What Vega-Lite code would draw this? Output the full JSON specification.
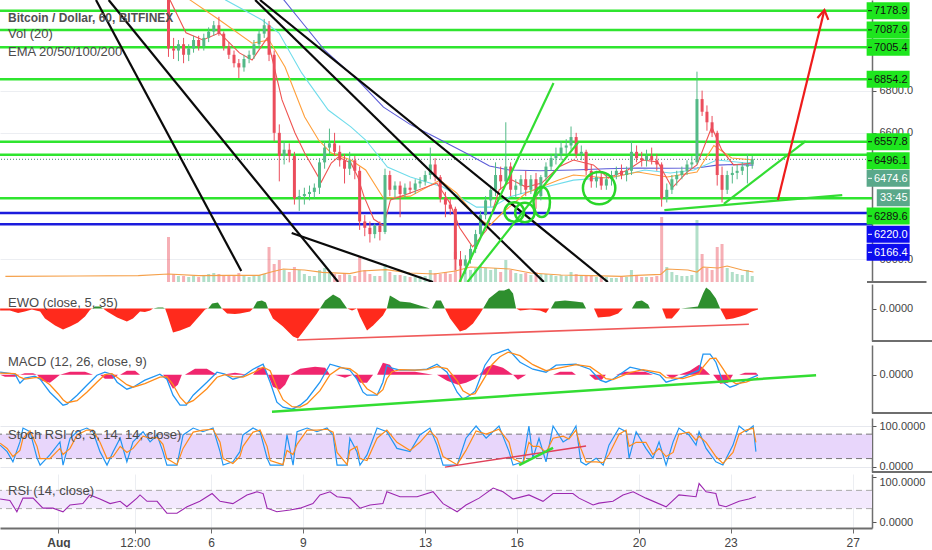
{
"$schema":"https://vega.github.io/schema/vega-lite/v6.json",
"padding":{"left":-2,"top":0,"right":0,"bottom":0},
"background":"#ffffff",
"spacing":1,
"config":{"view":{"stroke":null},"font":"Liberation Sans","title":{"anchor":"start","frame":"group","fontSize":13,"fontWeight":"normal","color":"#4a4a4a","font":"Liberation Sans"},"axis":{"labelFont":"Liberation Sans"},"tick":{"opacity":1},"point":{"opacity":1}},
"datasets":{
"candles":[
{"d":4.5,"o":7240,"h":7260,"l":6960,"c":7000,"vol":2250},
{"d":4.67,"o":7000,"h":7050,"l":6950,"c":6990,"vol":400},
{"d":4.83,"o":6990,"h":7040,"l":6940,"c":7020,"vol":300},
{"d":5.0,"o":7020,"h":7050,"l":6930,"c":6970,"vol":300},
{"d":5.17,"o":6970,"h":7020,"l":6940,"c":7000,"vol":250},
{"d":5.33,"o":7000,"h":7060,"l":6980,"c":7040,"vol":300},
{"d":5.5,"o":7040,"h":7060,"l":6990,"c":7010,"vol":250},
{"d":5.67,"o":7010,"h":7070,"l":6990,"c":7050,"vol":350},
{"d":5.83,"o":7050,"h":7100,"l":7030,"c":7080,"vol":400},
{"d":6.0,"o":7080,"h":7130,"l":7060,"c":7110,"vol":450},
{"d":6.17,"o":7110,"h":7150,"l":7060,"c":7070,"vol":400},
{"d":6.33,"o":7070,"h":7080,"l":6990,"c":7010,"vol":350},
{"d":6.5,"o":7010,"h":7030,"l":6950,"c":6970,"vol":300},
{"d":6.67,"o":6970,"h":6990,"l":6910,"c":6930,"vol":300},
{"d":6.83,"o":6930,"h":6950,"l":6860,"c":6910,"vol":450},
{"d":7.0,"o":6910,"h":6970,"l":6890,"c":6950,"vol":300},
{"d":7.17,"o":6950,"h":6990,"l":6930,"c":6970,"vol":250},
{"d":7.33,"o":6970,"h":7040,"l":6950,"c":7020,"vol":300},
{"d":7.5,"o":7020,"h":7090,"l":7000,"c":7070,"vol":350},
{"d":7.67,"o":7070,"h":7140,"l":7050,"c":7110,"vol":400},
{"d":7.83,"o":7110,"h":7130,"l":6940,"c":6970,"vol":1750},
{"d":8.0,"o":6970,"h":6990,"l":6560,"c":6600,"vol":900},
{"d":8.17,"o":6600,"h":6640,"l":6370,"c":6490,"vol":1100},
{"d":8.33,"o":6490,"h":6560,"l":6450,"c":6520,"vol":600},
{"d":8.5,"o":6520,"h":6550,"l":6460,"c":6490,"vol":500},
{"d":8.67,"o":6490,"h":6510,"l":6260,"c":6290,"vol":750},
{"d":8.83,"o":6290,"h":6330,"l":6230,"c":6300,"vol":600},
{"d":9.0,"o":6300,"h":6340,"l":6260,"c":6310,"vol":400},
{"d":9.17,"o":6310,"h":6350,"l":6280,"c":6320,"vol":300},
{"d":9.33,"o":6320,"h":6360,"l":6290,"c":6340,"vol":300},
{"d":9.5,"o":6340,"h":6480,"l":6310,"c":6460,"vol":600},
{"d":9.67,"o":6460,"h":6560,"l":6430,"c":6530,"vol":700},
{"d":9.83,"o":6530,"h":6620,"l":6500,"c":6550,"vol":500},
{"d":10.0,"o":6550,"h":6600,"l":6490,"c":6510,"vol":400},
{"d":10.17,"o":6510,"h":6540,"l":6440,"c":6470,"vol":350},
{"d":10.33,"o":6470,"h":6500,"l":6360,"c":6430,"vol":400},
{"d":10.5,"o":6430,"h":6510,"l":6400,"c":6470,"vol":350},
{"d":10.67,"o":6470,"h":6490,"l":6380,"c":6420,"vol":300},
{"d":10.83,"o":6420,"h":6440,"l":6140,"c":6180,"vol":1250},
{"d":11.0,"o":6180,"h":6210,"l":6110,"c":6150,"vol":600},
{"d":11.17,"o":6150,"h":6180,"l":6080,"c":6120,"vol":400},
{"d":11.33,"o":6120,"h":6170,"l":6100,"c":6160,"vol":300},
{"d":11.5,"o":6160,"h":6180,"l":6090,"c":6130,"vol":300},
{"d":11.67,"o":6130,"h":6430,"l":6120,"c":6400,"vol":900},
{"d":11.83,"o":6400,"h":6420,"l":6300,"c":6330,"vol":500},
{"d":12.0,"o":6330,"h":6370,"l":6290,"c":6350,"vol":350},
{"d":12.17,"o":6350,"h":6370,"l":6200,"c":6310,"vol":350},
{"d":12.33,"o":6310,"h":6360,"l":6290,"c":6340,"vol":300},
{"d":12.5,"o":6340,"h":6370,"l":6310,"c":6330,"vol":250},
{"d":12.67,"o":6330,"h":6380,"l":6310,"c":6360,"vol":250},
{"d":12.83,"o":6360,"h":6390,"l":6340,"c":6370,"vol":300},
{"d":13.0,"o":6370,"h":6420,"l":6350,"c":6400,"vol":300},
{"d":13.17,"o":6400,"h":6530,"l":6380,"c":6450,"vol":600},
{"d":13.33,"o":6450,"h":6480,"l":6370,"c":6390,"vol":450},
{"d":13.5,"o":6390,"h":6400,"l":6270,"c":6290,"vol":400},
{"d":13.67,"o":6290,"h":6320,"l":6200,"c":6260,"vol":500},
{"d":13.83,"o":6260,"h":6290,"l":6210,"c":6240,"vol":400},
{"d":14.0,"o":6240,"h":6250,"l":5950,"c":6000,"vol":1500},
{"d":14.17,"o":6000,"h":6040,"l":5905,"c":5970,"vol":1100},
{"d":14.33,"o":5970,"h":6020,"l":5930,"c":6000,"vol":700},
{"d":14.5,"o":6000,"h":6070,"l":5980,"c":6050,"vol":600},
{"d":14.67,"o":6050,"h":6140,"l":6030,"c":6120,"vol":700},
{"d":14.83,"o":6120,"h":6230,"l":6100,"c":6210,"vol":800},
{"d":15.0,"o":6210,"h":6300,"l":6190,"c":6280,"vol":700},
{"d":15.17,"o":6280,"h":6350,"l":6250,"c":6330,"vol":600},
{"d":15.33,"o":6330,"h":6460,"l":6300,"c":6400,"vol":700},
{"d":15.5,"o":6400,"h":6440,"l":6330,"c":6370,"vol":500},
{"d":15.67,"o":6370,"h":6650,"l":6360,"c":6440,"vol":1100},
{"d":15.83,"o":6440,"h":6460,"l":6300,"c":6330,"vol":600},
{"d":16.0,"o":6330,"h":6380,"l":6290,"c":6350,"vol":450},
{"d":16.17,"o":6350,"h":6400,"l":6310,"c":6380,"vol":400},
{"d":16.33,"o":6380,"h":6420,"l":6300,"c":6330,"vol":450},
{"d":16.5,"o":6330,"h":6400,"l":6310,"c":6380,"vol":350},
{"d":16.67,"o":6380,"h":6410,"l":6240,"c":6300,"vol":500},
{"d":16.83,"o":6300,"h":6400,"l":6280,"c":6390,"vol":400},
{"d":17.0,"o":6390,"h":6460,"l":6370,"c":6440,"vol":400},
{"d":17.17,"o":6440,"h":6500,"l":6420,"c":6480,"vol":350},
{"d":17.33,"o":6480,"h":6530,"l":6450,"c":6500,"vol":300},
{"d":17.5,"o":6500,"h":6560,"l":6470,"c":6530,"vol":350},
{"d":17.67,"o":6530,"h":6570,"l":6500,"c":6540,"vol":300},
{"d":17.83,"o":6540,"h":6630,"l":6520,"c":6580,"vol":500},
{"d":18.0,"o":6580,"h":6600,"l":6480,"c":6500,"vol":400},
{"d":18.17,"o":6500,"h":6540,"l":6470,"c":6510,"vol":300},
{"d":18.33,"o":6510,"h":6520,"l":6400,"c":6420,"vol":350},
{"d":18.5,"o":6420,"h":6450,"l":6340,"c":6370,"vol":350},
{"d":18.67,"o":6370,"h":6420,"l":6340,"c":6390,"vol":250},
{"d":18.83,"o":6390,"h":6410,"l":6330,"c":6350,"vol":250},
{"d":19.0,"o":6350,"h":6400,"l":6330,"c":6380,"vol":250},
{"d":19.17,"o":6380,"h":6420,"l":6350,"c":6400,"vol":200},
{"d":19.33,"o":6400,"h":6440,"l":6380,"c":6420,"vol":200},
{"d":19.5,"o":6420,"h":6450,"l":6380,"c":6400,"vol":250},
{"d":19.67,"o":6400,"h":6440,"l":6370,"c":6420,"vol":250},
{"d":19.83,"o":6420,"h":6560,"l":6400,"c":6510,"vol":600},
{"d":20.0,"o":6510,"h":6540,"l":6460,"c":6480,"vol":350},
{"d":20.17,"o":6480,"h":6510,"l":6440,"c":6470,"vol":250},
{"d":20.33,"o":6470,"h":6520,"l":6440,"c":6490,"vol":250},
{"d":20.5,"o":6490,"h":6530,"l":6450,"c":6470,"vol":250},
{"d":20.67,"o":6470,"h":6500,"l":6420,"c":6450,"vol":300},
{"d":20.83,"o":6450,"h":6460,"l":6250,"c":6290,"vol":3250},
{"d":21.0,"o":6290,"h":6360,"l":6270,"c":6330,"vol":750},
{"d":21.17,"o":6330,"h":6400,"l":6310,"c":6380,"vol":500},
{"d":21.33,"o":6380,"h":6420,"l":6350,"c":6400,"vol":350},
{"d":21.5,"o":6400,"h":6440,"l":6380,"c":6420,"vol":300},
{"d":21.67,"o":6420,"h":6470,"l":6400,"c":6450,"vol":300},
{"d":21.83,"o":6450,"h":6490,"l":6430,"c":6460,"vol":350},
{"d":22.0,"o":6460,"h":6890,"l":6450,"c":6760,"vol":3100},
{"d":22.17,"o":6760,"h":6800,"l":6680,"c":6700,"vol":1400},
{"d":22.33,"o":6700,"h":6730,"l":6610,"c":6650,"vol":700},
{"d":22.5,"o":6650,"h":6680,"l":6580,"c":6600,"vol":600},
{"d":22.67,"o":6600,"h":6610,"l":6350,"c":6400,"vol":1750},
{"d":22.83,"o":6400,"h":6440,"l":6270,"c":6330,"vol":1900},
{"d":23.0,"o":6330,"h":6420,"l":6310,"c":6400,"vol":700},
{"d":23.17,"o":6400,"h":6440,"l":6360,"c":6410,"vol":500},
{"d":23.33,"o":6410,"h":6450,"l":6380,"c":6420,"vol":400},
{"d":23.5,"o":6420,"h":6460,"l":6400,"c":6440,"vol":350},
{"d":23.67,"o":6440,"h":6500,"l":6360,"c":6450,"vol":600},
{"d":23.83,"o":6450,"h":6490,"l":6430,"c":6474.6,"vol":300}
],
"volma":[
{"d":-0.9,"v":280},{"d":1.5,"v":300},{"d":3.5,"v":320},{"d":4.5,"v":400},{"d":5.5,"v":320},{"d":6.5,"v":330},{"d":7.5,"v":330},{"d":7.9,"v":500},{"d":8.3,"v":650},{"d":9.0,"v":600},{"d":9.6,"v":480},{"d":10.5,"v":420},{"d":10.9,"v":550},{"d":11.7,"v":620},{"d":12.5,"v":450},{"d":13.3,"v":400},{"d":14.0,"v":550},{"d":14.5,"v":750},{"d":15.2,"v":700},{"d":15.8,"v":650},{"d":16.5,"v":450},{"d":17.5,"v":350},{"d":18.5,"v":320},{"d":19.5,"v":280},{"d":20.0,"v":330},{"d":20.8,"v":380},{"d":21.0,"v":650},{"d":21.7,"v":600},{"d":22.0,"v":500},{"d":22.2,"v":750},{"d":22.7,"v":700},{"d":23.0,"v":800},{"d":23.5,"v":600},{"d":23.87,"v":500}
],
"ema":[
{"n":"EMA 200","d":4.5,"p":7700},{"n":"EMA 200","d":6.0,"p":7540},{"n":"EMA 200","d":7.5,"p":7360},{"n":"EMA 200","d":8.32,"p":7230},{"n":"EMA 200","d":9.0,"p":7110},{"n":"EMA 200","d":9.66,"p":6993},{"n":"EMA 200","d":10.77,"p":6850},{"n":"EMA 200","d":11.62,"p":6722},{"n":"EMA 200","d":12.5,"p":6640},{"n":"EMA 200","d":13.26,"p":6585},{"n":"EMA 200","d":14.47,"p":6495},{"n":"EMA 200","d":15.13,"p":6443},{"n":"EMA 200","d":15.78,"p":6424},{"n":"EMA 200","d":16.8,"p":6420},{"n":"EMA 200","d":17.91,"p":6424},{"n":"EMA 200","d":19.0,"p":6430},{"n":"EMA 200","d":20.04,"p":6433},{"n":"EMA 200","d":21.0,"p":6432},{"n":"EMA 200","d":22.0,"p":6433},{"n":"EMA 200","d":22.66,"p":6447},{"n":"EMA 200","d":23.2,"p":6450},{"n":"EMA 200","d":23.87,"p":6447},
{"n":"EMA 100","d":4.5,"p":7450},{"n":"EMA 100","d":5.5,"p":7320},{"n":"EMA 100","d":6.39,"p":7230},{"n":"EMA 100","d":7.6,"p":7135},{"n":"EMA 100","d":8.16,"p":7073},{"n":"EMA 100","d":8.91,"p":6884},{"n":"EMA 100","d":9.79,"p":6708},{"n":"EMA 100","d":10.54,"p":6628},{"n":"EMA 100","d":11.03,"p":6566},{"n":"EMA 100","d":11.75,"p":6438},{"n":"EMA 100","d":12.51,"p":6391},{"n":"EMA 100","d":13.59,"p":6343},{"n":"EMA 100","d":14.14,"p":6296},{"n":"EMA 100","d":14.7,"p":6248},{"n":"EMA 100","d":15.22,"p":6248},{"n":"EMA 100","d":15.78,"p":6296},{"n":"EMA 100","d":16.99,"p":6343},{"n":"EMA 100","d":17.91,"p":6376},{"n":"EMA 100","d":19.28,"p":6391},{"n":"EMA 100","d":20.27,"p":6424},{"n":"EMA 100","d":21.12,"p":6410},{"n":"EMA 100","d":21.9,"p":6424},{"n":"EMA 100","d":22.66,"p":6471},{"n":"EMA 100","d":23.64,"p":6457},{"n":"EMA 100","d":23.87,"p":6462},
{"n":"EMA 50","d":4.5,"p":7300},{"n":"EMA 50","d":5.21,"p":7230},{"n":"EMA 50","d":6.19,"p":7135},{"n":"EMA 50","d":7.27,"p":7025},{"n":"EMA 50","d":7.83,"p":7040},{"n":"EMA 50","d":8.36,"p":6912},{"n":"EMA 50","d":9.01,"p":6675},{"n":"EMA 50","d":9.47,"p":6566},{"n":"EMA 50","d":9.89,"p":6504},{"n":"EMA 50","d":10.54,"p":6471},{"n":"EMA 50","d":11.03,"p":6424},{"n":"EMA 50","d":11.62,"p":6290},{"n":"EMA 50","d":12.51,"p":6300},{"n":"EMA 50","d":13.49,"p":6376},{"n":"EMA 50","d":14.04,"p":6315},{"n":"EMA 50","d":14.7,"p":6201},{"n":"EMA 50","d":15.13,"p":6160},{"n":"EMA 50","d":15.55,"p":6220},{"n":"EMA 50","d":16.34,"p":6315},{"n":"EMA 50","d":17.42,"p":6376},{"n":"EMA 50","d":17.91,"p":6400},{"n":"EMA 50","d":19.06,"p":6386},{"n":"EMA 50","d":20.04,"p":6414},{"n":"EMA 50","d":21.02,"p":6391},{"n":"EMA 50","d":22.0,"p":6414},{"n":"EMA 50","d":22.56,"p":6540},{"n":"EMA 50","d":23.15,"p":6481},{"n":"EMA 50","d":23.87,"p":6471},
{"n":"EMA 20","d":4.3,"p":7320},{"n":"EMA 20","d":4.55,"p":7230},{"n":"EMA 20","d":5.08,"p":7074},{"n":"EMA 20","d":5.64,"p":7040},{"n":"EMA 20","d":6.19,"p":7074},{"n":"EMA 20","d":6.85,"p":6979},{"n":"EMA 20","d":7.27,"p":6945},{"n":"EMA 20","d":7.77,"p":7050},{"n":"EMA 20","d":8.26,"p":6756},{"n":"EMA 20","d":8.69,"p":6599},{"n":"EMA 20","d":9.01,"p":6504},{"n":"EMA 20","d":9.56,"p":6367},{"n":"EMA 20","d":9.89,"p":6457},{"n":"EMA 20","d":10.12,"p":6485},{"n":"EMA 20","d":10.54,"p":6457},{"n":"EMA 20","d":10.77,"p":6391},{"n":"EMA 20","d":10.97,"p":6300},{"n":"EMA 20","d":11.3,"p":6190},{"n":"EMA 20","d":11.63,"p":6160},{"n":"EMA 20","d":11.85,"p":6282},{"n":"EMA 20","d":12.51,"p":6315},{"n":"EMA 20","d":13.39,"p":6362},{"n":"EMA 20","d":13.82,"p":6267},{"n":"EMA 20","d":14.14,"p":6150},{"n":"EMA 20","d":14.57,"p":6060},{"n":"EMA 20","d":15.03,"p":6139},{"n":"EMA 20","d":15.45,"p":6330},{"n":"EMA 20","d":15.88,"p":6376},{"n":"EMA 20","d":16.34,"p":6343},{"n":"EMA 20","d":16.86,"p":6362},{"n":"EMA 20","d":17.42,"p":6438},{"n":"EMA 20","d":17.91,"p":6471},{"n":"EMA 20","d":18.57,"p":6448},{"n":"EMA 20","d":19.06,"p":6386},{"n":"EMA 20","d":19.71,"p":6424},{"n":"EMA 20","d":20.2,"p":6471},{"n":"EMA 20","d":20.7,"p":6462},{"n":"EMA 20","d":21.18,"p":6339},{"n":"EMA 20","d":21.67,"p":6414},{"n":"EMA 20","d":22.0,"p":6448},{"n":"EMA 20","d":22.49,"p":6628},{"n":"EMA 20","d":22.82,"p":6519},{"n":"EMA 20","d":23.21,"p":6448},{"n":"EMA 20","d":23.87,"p":6457}
],
"levels":[
{"p":7178.9,"k":"level"},{"p":7087.9,"k":"level"},{"p":7005.4,"k":"level"},{"p":6854.2,"k":"level"},{"p":6557.8,"k":"level"},{"p":6496.1,"k":"level"},{"p":6289.6,"k":"level"},{"p":6220.0,"k":"demand"},{"p":6166.4,"k":"demand"}
],
"tags":[
{"label":"7178.9","at":7178.9,"k":"level"},{"label":"7087.9","at":7087.9,"k":"level"},{"label":"7005.4","at":7005.4,"k":"level"},{"label":"6854.2","at":6854.2,"k":"level"},{"label":"6557.8","at":6557.8,"k":"level"},{"label":"6496.1","at":6467.9,"k":"level"},{"label":"6474.6","at":6384.4,"k":"last"},{"label":"33:45","at":6292.5,"k":"timer"},{"label":"6289.6","at":6205.8,"k":"level"},{"label":"6220.0","at":6119.0,"k":"demand"},{"label":"6166.4","at":6033.7,"k":"demand"}
],
"drawings":[
{"g":"L1","k":"down","d":2.10,"p":7229.6},{"g":"L1","k":"down","d":6.91,"p":5945},
{"g":"L2","k":"down","d":2.52,"p":7229.6},{"g":"L2","k":"down","d":10.12,"p":5893},
{"g":"L3","k":"down","d":7.37,"p":7229.6},{"g":"L3","k":"down","d":16.93,"p":5893},
{"g":"L4","k":"down","d":7.53,"p":7229.6},{"g":"L4","k":"down","d":19.05,"p":5893},
{"g":"L5","k":"down","d":8.58,"p":6125},{"g":"L5","k":"down","d":13.26,"p":5893},
{"g":"G1","k":"up","d":14.14,"p":5893},{"g":"G1","k":"up","d":17.25,"p":6836},
{"g":"G2","k":"up","d":14.40,"p":5893},{"g":"G2","k":"up","d":18.07,"p":6556},
{"g":"G3","k":"up","d":20.92,"p":6234},{"g":"G3","k":"up","d":26.81,"p":6305},
{"g":"G4","k":"up","d":22.89,"p":6263},{"g":"G4","k":"up","d":25.60,"p":6561},
{"g":"A1","k":"target","d":24.68,"p":6282},{"g":"A1","k":"target","d":26.22,"p":7182},
{"g":"A2","k":"target","d":25.99,"p":7144},{"g":"A2","k":"target","d":26.22,"p":7182},{"g":"A2","k":"target","d":26.35,"p":7135}
],
"rings":[
{"id":"c1","d":15.95,"p":6225},{"id":"c2","d":16.3,"p":6222},{"id":"c3","d":16.86,"p":6272},{"id":"c4","d":18.76,"p":6338}
],
"ewo":[
{"seg":1,"s":"neg","d":-0.91,"v":-8},{"seg":1,"s":"neg","d":-0.59,"v":-8},{"seg":1,"s":"neg","d":-0.32,"v":-18},{"seg":1,"s":"neg","d":-0.10,"v":-12},{"seg":1,"s":"neg","d":0.13,"v":-4},{"seg":1,"s":"neg","d":0.40,"v":-12},{"seg":1,"s":"neg","d":0.56,"v":-40},{"seg":1,"s":"neg","d":0.89,"v":-68},{"seg":1,"s":"neg","d":1.15,"v":-84},{"seg":1,"s":"neg","d":1.38,"v":-72},{"seg":1,"s":"neg","d":1.64,"v":-56},{"seg":1,"s":"neg","d":1.87,"v":-32},{"seg":1,"s":"neg","d":2.03,"v":-6},{"seg":1,"s":"neg","d":2.10,"v":0},
{"seg":2,"s":"pos","d":2.10,"v":0},{"seg":2,"s":"pos","d":2.20,"v":8},{"seg":2,"s":"pos","d":2.36,"v":8},{"seg":2,"s":"pos","d":2.46,"v":0},
{"seg":3,"s":"neg","d":2.46,"v":0},{"seg":3,"s":"neg","d":2.59,"v":-12},{"seg":3,"s":"neg","d":2.92,"v":-36},{"seg":3,"s":"neg","d":3.24,"v":-52},{"seg":3,"s":"neg","d":3.44,"v":-40},{"seg":3,"s":"neg","d":3.67,"v":-12},{"seg":3,"s":"neg","d":3.83,"v":-14},{"seg":3,"s":"neg","d":4.00,"v":-8},{"seg":3,"s":"neg","d":4.10,"v":0},
{"seg":4,"s":"pos","d":4.10,"v":0},{"seg":4,"s":"pos","d":4.26,"v":4},{"seg":4,"s":"pos","d":4.42,"v":4},{"seg":4,"s":"pos","d":4.49,"v":0},
{"seg":5,"s":"neg","d":4.49,"v":0},{"seg":5,"s":"neg","d":4.55,"v":-20},{"seg":5,"s":"neg","d":4.75,"v":-96},{"seg":5,"s":"neg","d":4.98,"v":-88},{"seg":5,"s":"neg","d":5.31,"v":-72},{"seg":5,"s":"neg","d":5.63,"v":-28},{"seg":5,"s":"neg","d":5.80,"v":-4},{"seg":5,"s":"neg","d":5.90,"v":0},
{"seg":6,"s":"pos","d":5.90,"v":0},{"seg":6,"s":"pos","d":6.03,"v":20},{"seg":6,"s":"pos","d":6.22,"v":24},{"seg":6,"s":"pos","d":6.35,"v":0},
{"seg":7,"s":"neg","d":6.35,"v":0},{"seg":7,"s":"neg","d":6.52,"v":-20},{"seg":7,"s":"neg","d":6.78,"v":-22},{"seg":7,"s":"neg","d":6.94,"v":-20},{"seg":7,"s":"neg","d":7.27,"v":-12},{"seg":7,"s":"neg","d":7.37,"v":0},
{"seg":8,"s":"pos","d":7.37,"v":0},{"seg":8,"s":"pos","d":7.50,"v":28},{"seg":8,"s":"pos","d":7.66,"v":32},{"seg":8,"s":"pos","d":7.79,"v":24},{"seg":8,"s":"pos","d":7.86,"v":0},
{"seg":9,"s":"neg","d":7.86,"v":0},{"seg":9,"s":"neg","d":8.02,"v":-40},{"seg":9,"s":"neg","d":8.35,"v":-72},{"seg":9,"s":"neg","d":8.68,"v":-112},{"seg":9,"s":"neg","d":8.84,"v":-120},{"seg":9,"s":"neg","d":9.14,"v":-72},{"seg":9,"s":"neg","d":9.46,"v":-20},{"seg":9,"s":"neg","d":9.56,"v":0},
{"seg":10,"s":"pos","d":9.56,"v":0},{"seg":10,"s":"pos","d":9.73,"v":32},{"seg":10,"s":"pos","d":9.99,"v":56},{"seg":10,"s":"pos","d":10.22,"v":40},{"seg":10,"s":"pos","d":10.45,"v":0},
{"seg":11,"s":"neg","d":10.45,"v":0},{"seg":11,"s":"neg","d":10.61,"v":-8},{"seg":11,"s":"neg","d":10.77,"v":0},
{"seg":12,"s":"neg","d":10.77,"v":0},{"seg":12,"s":"neg","d":10.87,"v":-32},{"seg":12,"s":"neg","d":11.10,"v":-88},{"seg":12,"s":"neg","d":11.30,"v":-68},{"seg":12,"s":"neg","d":11.62,"v":-28},{"seg":12,"s":"neg","d":11.75,"v":0},
{"seg":13,"s":"pos","d":11.75,"v":0},{"seg":13,"s":"pos","d":11.85,"v":52},{"seg":13,"s":"pos","d":12.02,"v":40},{"seg":13,"s":"pos","d":12.18,"v":28},{"seg":13,"s":"pos","d":12.51,"v":24},{"seg":13,"s":"pos","d":12.83,"v":12},{"seg":13,"s":"pos","d":13.06,"v":4},{"seg":13,"s":"pos","d":13.16,"v":0},
{"seg":14,"s":"pos","d":13.23,"v":0},{"seg":14,"s":"pos","d":13.36,"v":32},{"seg":14,"s":"pos","d":13.52,"v":32},{"seg":14,"s":"pos","d":13.65,"v":0},
{"seg":15,"s":"neg","d":13.65,"v":0},{"seg":15,"s":"neg","d":13.82,"v":-40},{"seg":15,"s":"neg","d":14.14,"v":-92},{"seg":15,"s":"neg","d":14.34,"v":-84},{"seg":15,"s":"neg","d":14.57,"v":-60},{"seg":15,"s":"neg","d":14.80,"v":-20},{"seg":15,"s":"neg","d":14.90,"v":0},
{"seg":16,"s":"pos","d":14.90,"v":0},{"seg":16,"s":"pos","d":15.09,"v":40},{"seg":16,"s":"pos","d":15.42,"v":72},{"seg":16,"s":"pos","d":15.59,"v":72},{"seg":16,"s":"pos","d":15.75,"v":80},{"seg":16,"s":"pos","d":15.88,"v":60},{"seg":16,"s":"pos","d":15.98,"v":0},
{"seg":17,"s":"neg","d":15.98,"v":0},{"seg":17,"s":"neg","d":16.11,"v":-8},{"seg":17,"s":"neg","d":16.44,"v":-4},{"seg":17,"s":"neg","d":16.76,"v":-8},{"seg":17,"s":"neg","d":16.96,"v":-18},{"seg":17,"s":"neg","d":17.06,"v":0},
{"seg":18,"s":"pos","d":17.12,"v":0},{"seg":18,"s":"pos","d":17.25,"v":28},{"seg":18,"s":"pos","d":17.58,"v":32},{"seg":18,"s":"pos","d":17.91,"v":28},{"seg":18,"s":"pos","d":18.17,"v":24},{"seg":18,"s":"pos","d":18.27,"v":0},
{"seg":19,"s":"neg","d":18.53,"v":0},{"seg":19,"s":"neg","d":18.66,"v":-36},{"seg":19,"s":"neg","d":19.05,"v":-32},{"seg":19,"s":"neg","d":19.32,"v":-20},{"seg":19,"s":"neg","d":19.48,"v":0},
{"seg":20,"s":"pos","d":19.77,"v":0},{"seg":20,"s":"pos","d":19.91,"v":28},{"seg":20,"s":"pos","d":20.10,"v":32},{"seg":20,"s":"pos","d":20.30,"v":16},{"seg":20,"s":"pos","d":20.36,"v":0},
{"seg":21,"s":"neg","d":20.76,"v":0},{"seg":21,"s":"neg","d":20.89,"v":-40},{"seg":21,"s":"neg","d":21.08,"v":-40},{"seg":21,"s":"neg","d":21.28,"v":-12},{"seg":21,"s":"neg","d":21.35,"v":0},
{"seg":22,"s":"pos","d":21.38,"v":0},{"seg":22,"s":"pos","d":21.67,"v":4},{"seg":22,"s":"pos","d":21.93,"v":8},{"seg":22,"s":"pos","d":22.10,"v":60},{"seg":22,"s":"pos","d":22.20,"v":84},{"seg":22,"s":"pos","d":22.33,"v":72},{"seg":22,"s":"pos","d":22.52,"v":40},{"seg":22,"s":"pos","d":22.66,"v":0},
{"seg":23,"s":"neg","d":22.66,"v":0},{"seg":23,"s":"neg","d":22.85,"v":-44},{"seg":23,"s":"neg","d":23.08,"v":-40},{"seg":23,"s":"neg","d":23.31,"v":-32},{"seg":23,"s":"neg","d":23.51,"v":-24},{"seg":23,"s":"neg","d":23.70,"v":-12},{"seg":23,"s":"neg","d":23.90,"v":-4}
],
"hist":[
{"seg":1,"d":-0.91,"v":0},{"seg":1,"d":-0.75,"v":-4},{"seg":1,"d":-0.42,"v":-4},{"seg":1,"d":-0.26,"v":0},
{"seg":2,"d":-0.26,"v":0},{"seg":2,"d":-0.10,"v":3},{"seg":2,"d":0.17,"v":3},{"seg":2,"d":0.30,"v":0},
{"seg":3,"d":0.30,"v":0},{"seg":3,"d":0.46,"v":-12},{"seg":3,"d":0.72,"v":-16},{"seg":3,"d":0.89,"v":-8},{"seg":3,"d":1.05,"v":0},
{"seg":4,"d":1.05,"v":0},{"seg":4,"d":1.38,"v":6},{"seg":4,"d":1.87,"v":6},{"seg":4,"d":2.13,"v":0},
{"seg":5,"d":2.36,"v":0},{"seg":5,"d":2.52,"v":-8},{"seg":5,"d":2.79,"v":-8},{"seg":5,"d":2.95,"v":0},
{"seg":6,"d":3.02,"v":0},{"seg":6,"d":3.24,"v":8},{"seg":6,"d":3.51,"v":8},{"seg":6,"d":3.67,"v":0},
{"seg":7,"d":4.42,"v":0},{"seg":7,"d":4.59,"v":-12},{"seg":7,"d":4.75,"v":-28},{"seg":7,"d":4.91,"v":-20},{"seg":7,"d":5.04,"v":0},
{"seg":8,"d":5.14,"v":0},{"seg":8,"d":5.47,"v":12},{"seg":8,"d":5.86,"v":12},{"seg":8,"d":6.19,"v":0},
{"seg":9,"d":6.35,"v":0},{"seg":9,"d":6.78,"v":4},{"seg":9,"d":7.20,"v":0},
{"seg":10,"d":7.37,"v":0},{"seg":10,"d":7.53,"v":14},{"seg":10,"d":7.76,"v":14},{"seg":10,"d":7.86,"v":0},
{"seg":11,"d":7.86,"v":0},{"seg":11,"d":8.02,"v":-24},{"seg":11,"d":8.25,"v":-30},{"seg":11,"d":8.42,"v":-20},{"seg":11,"d":8.58,"v":0},
{"seg":12,"d":8.58,"v":0},{"seg":12,"d":8.91,"v":12},{"seg":12,"d":9.40,"v":16},{"seg":12,"d":9.73,"v":14},{"seg":12,"d":9.89,"v":0},
{"seg":13,"d":10.05,"v":0},{"seg":13,"d":10.38,"v":-6},{"seg":13,"d":10.64,"v":0},
{"seg":14,"d":10.64,"v":0},{"seg":14,"d":10.87,"v":-16},{"seg":14,"d":11.10,"v":-16},{"seg":14,"d":11.30,"v":0},
{"seg":15,"d":11.43,"v":0},{"seg":15,"d":11.62,"v":24},{"seg":15,"d":11.85,"v":20},{"seg":15,"d":12.02,"v":6},{"seg":15,"d":12.67,"v":6},{"seg":15,"d":13.26,"v":0},
{"seg":16,"d":13.39,"v":0},{"seg":16,"d":13.72,"v":-12},{"seg":16,"d":14.08,"v":-20},{"seg":16,"d":14.34,"v":-16},{"seg":16,"d":14.64,"v":-8},{"seg":16,"d":14.77,"v":0},
{"seg":17,"d":14.77,"v":0},{"seg":17,"d":15.03,"v":16},{"seg":17,"d":15.23,"v":20},{"seg":17,"d":15.55,"v":14},{"seg":17,"d":15.88,"v":0},
{"seg":18,"d":15.88,"v":0},{"seg":18,"d":16.04,"v":-10},{"seg":18,"d":16.31,"v":0},
{"seg":19,"d":17.19,"v":0},{"seg":19,"d":17.42,"v":6},{"seg":19,"d":17.81,"v":6},{"seg":19,"d":17.94,"v":0},
{"seg":20,"d":18.37,"v":0},{"seg":20,"d":18.56,"v":-10},{"seg":20,"d":18.79,"v":-10},{"seg":20,"d":18.92,"v":0},
{"seg":21,"d":19.25,"v":0},{"seg":21,"d":19.55,"v":6},{"seg":21,"d":20.20,"v":6},{"seg":21,"d":20.46,"v":0},
{"seg":22,"d":20.89,"v":0},{"seg":22,"d":21.08,"v":-8},{"seg":22,"d":21.31,"v":0},
{"seg":23,"d":21.31,"v":0},{"seg":23,"d":21.67,"v":8},{"seg":23,"d":21.97,"v":20},{"seg":23,"d":22.16,"v":10},{"seg":23,"d":22.33,"v":0},
{"seg":24,"d":22.43,"v":0},{"seg":24,"d":22.66,"v":-18},{"seg":24,"d":22.92,"v":-16},{"seg":24,"d":23.08,"v":0},
{"seg":25,"d":23.28,"v":0},{"seg":25,"d":23.47,"v":4},{"seg":25,"d":23.83,"v":4},{"seg":25,"d":23.90,"v":0}
],
"macd":[
{"d":-0.91,"m":5,"s":3},{"d":-0.42,"m":1,"s":2},{"d":-0.26,"m":-17,"s":-5},{"d":-0.10,"m":-7,"s":-9},{"d":0.23,"m":-3,"s":-6},{"d":0.40,"m":-9,"s":-6},{"d":0.72,"m":-35,"s":-20},{"d":0.99,"m":-51,"s":-38},{"d":1.15,"m":-61,"s":-50},{"d":1.28,"m":-59,"s":-56},{"d":1.61,"m":-41,"s":-52},{"d":1.93,"m":-21,"s":-35},{"d":2.26,"m":-1,"s":-15},{"d":2.52,"m":5,"s":0},{"d":2.75,"m":1,"s":2},{"d":2.92,"m":-15,"s":-5},{"d":3.24,"m":-29,"s":-20},{"d":3.44,"m":-25,"s":-25},{"d":3.83,"m":-11,"s":-18},{"d":4.32,"m":1,"s":-5},{"d":4.55,"m":-9,"s":-4},{"d":4.75,"m":-41,"s":-20},{"d":4.98,"m":-61,"s":-45},{"d":5.18,"m":-61,"s":-58},{"d":5.41,"m":-41,"s":-52},{"d":5.86,"m":-15,"s":-28},{"d":6.19,"m":5,"s":-5},{"d":6.45,"m":1,"s":0},{"d":6.71,"m":-9,"s":-4},{"d":7.04,"m":-3,"s":-5},{"d":7.37,"m":11,"s":4},{"d":7.70,"m":21,"s":15},{"d":7.93,"m":-15,"s":8},{"d":8.15,"m":-55,"s":-25},{"d":8.35,"m":-65,"s":-50},{"d":8.65,"m":-69,"s":-64},{"d":8.91,"m":-61,"s":-65},{"d":9.14,"m":-49,"s":-58},{"d":9.56,"m":-15,"s":-32},{"d":9.89,"m":21,"s":0},{"d":10.22,"m":15,"s":14},{"d":10.54,"m":9,"s":12},{"d":10.77,"m":-9,"s":2},{"d":10.97,"m":-35,"s":-18},{"d":11.10,"m":-41,"s":-28},{"d":11.43,"m":-41,"s":-40},{"d":11.62,"m":-15,"s":-30},{"d":11.75,"m":19,"s":-8},{"d":11.92,"m":13,"s":6},{"d":12.18,"m":9,"s":10},{"d":12.67,"m":9,"s":9},{"d":13.06,"m":11,"s":10},{"d":13.39,"m":21,"s":16},{"d":13.72,"m":5,"s":12},{"d":14.05,"m":-35,"s":-12},{"d":14.24,"m":-49,"s":-32},{"d":14.47,"m":-41,"s":-40},{"d":14.64,"m":-33,"s":-38},{"d":14.96,"m":19,"s":-5},{"d":15.19,"m":39,"s":20},{"d":15.45,"m":45,"s":36},{"d":15.72,"m":51,"s":45},{"d":16.11,"m":25,"s":38},{"d":16.53,"m":11,"s":20},{"d":16.96,"m":5,"s":8},{"d":17.29,"m":19,"s":12},{"d":17.94,"m":21,"s":20},{"d":18.40,"m":11,"s":16},{"d":18.73,"m":-11,"s":2},{"d":18.92,"m":-15,"s":-8},{"d":19.15,"m":-9,"s":-10},{"d":19.71,"m":15,"s":4},{"d":20.13,"m":9,"s":10},{"d":20.69,"m":-1,"s":4},{"d":20.89,"m":-15,"s":-6},{"d":21.44,"m":-5,"s":-8},{"d":21.97,"m":9,"s":2},{"d":22.10,"m":41,"s":15},{"d":22.33,"m":41,"s":32},{"d":22.52,"m":25,"s":33},{"d":22.75,"m":-15,"s":12},{"d":22.98,"m":-25,"s":-10},{"d":23.18,"m":-21,"s":-18},{"d":23.51,"m":-11,"s":-15},{"d":23.90,"m":-1,"s":-6}
],
"stoch":[
{"d":-0.91,"k":53,"ds":58},{"d":-0.68,"k":37,"ds":45},{"d":-0.49,"k":12,"ds":25},{"d":-0.26,"k":61,"ds":40},{"d":-0.16,"k":95,"ds":70},{"d":0.07,"k":86,"ds":88},{"d":0.30,"k":21,"ds":50},{"d":0.40,"k":4,"ds":20},{"d":0.72,"k":29,"ds":20},{"d":1.05,"k":61,"ds":45},{"d":1.15,"k":4,"ds":30},{"d":1.38,"k":70,"ds":45},{"d":1.61,"k":86,"ds":78},{"d":1.93,"k":95,"ds":90},{"d":2.13,"k":86,"ds":90},{"d":2.36,"k":37,"ds":60},{"d":2.59,"k":4,"ds":20},{"d":2.79,"k":37,"ds":25},{"d":3.02,"k":70,"ds":50},{"d":3.24,"k":12,"ds":35},{"d":3.44,"k":61,"ds":45},{"d":3.77,"k":86,"ds":75},{"d":4.00,"k":61,"ds":70},{"d":4.23,"k":78,"ds":72},{"d":4.42,"k":37,"ds":55},{"d":4.55,"k":4,"ds":20},{"d":4.88,"k":4,"ds":5},{"d":5.08,"k":78,"ds":45},{"d":5.41,"k":95,"ds":85},{"d":5.73,"k":86,"ds":90},{"d":6.06,"k":95,"ds":92},{"d":6.29,"k":37,"ds":60},{"d":6.39,"k":4,"ds":20},{"d":6.71,"k":12,"ds":8},{"d":6.94,"k":37,"ds":25},{"d":7.04,"k":78,"ds":50},{"d":7.37,"k":95,"ds":85},{"d":7.60,"k":86,"ds":90},{"d":7.83,"k":21,"ds":50},{"d":7.93,"k":4,"ds":15},{"d":8.35,"k":4,"ds":5},{"d":8.48,"k":78,"ds":40},{"d":8.68,"k":4,"ds":30},{"d":8.81,"k":86,"ds":55},{"d":9.14,"k":95,"ds":90},{"d":9.46,"k":86,"ds":90},{"d":9.79,"k":95,"ds":92},{"d":9.99,"k":78,"ds":85},{"d":10.12,"k":4,"ds":35},{"d":10.45,"k":4,"ds":5},{"d":10.54,"k":70,"ds":40},{"d":10.77,"k":37,"ds":50},{"d":10.87,"k":4,"ds":20},{"d":11.10,"k":29,"ds":15},{"d":11.43,"k":95,"ds":70},{"d":11.75,"k":86,"ds":90},{"d":12.08,"k":45,"ds":60},{"d":12.51,"k":37,"ds":40},{"d":12.83,"k":78,"ds":60},{"d":13.16,"k":95,"ds":88},{"d":13.39,"k":53,"ds":70},{"d":13.59,"k":4,"ds":25},{"d":14.05,"k":4,"ds":5},{"d":14.34,"k":70,"ds":40},{"d":14.67,"k":100,"ds":88},{"d":15.00,"k":70,"ds":80},{"d":15.42,"k":100,"ds":92},{"d":15.75,"k":37,"ds":60},{"d":15.88,"k":4,"ds":20},{"d":16.21,"k":12,"ds":8},{"d":16.40,"k":100,"ds":60},{"d":16.53,"k":21,"ds":50},{"d":16.73,"k":70,"ds":50},{"d":16.96,"k":12,"ds":35},{"d":17.19,"k":100,"ds":70},{"d":17.52,"k":61,"ds":75},{"d":17.71,"k":70,"ds":68},{"d":17.94,"k":100,"ds":90},{"d":18.10,"k":12,"ds":45},{"d":18.27,"k":4,"ds":12},{"d":18.60,"k":21,"ds":12},{"d":18.83,"k":4,"ds":10},{"d":19.02,"k":53,"ds":30},{"d":19.35,"k":95,"ds":80},{"d":19.58,"k":86,"ds":90},{"d":19.68,"k":21,"ds":50},{"d":19.91,"k":86,"ds":60},{"d":20.23,"k":45,"ds":60},{"d":20.46,"k":21,"ds":30},{"d":20.66,"k":61,"ds":45},{"d":20.89,"k":4,"ds":25},{"d":21.12,"k":61,"ds":35},{"d":21.31,"k":95,"ds":80},{"d":21.64,"k":78,"ds":85},{"d":21.87,"k":53,"ds":65},{"d":21.97,"k":86,"ds":75},{"d":22.20,"k":45,"ds":60},{"d":22.52,"k":12,"ds":25},{"d":22.75,"k":4,"ds":8},{"d":23.08,"k":53,"ds":35},{"d":23.28,"k":100,"ds":80},{"d":23.51,"k":86,"ds":90},{"d":23.74,"k":100,"ds":95},{"d":23.83,"k":37,"ds":60}
],
"rsi":[
{"d":-0.91,"r":51},{"d":-0.59,"r":48},{"d":-0.36,"r":23},{"d":-0.16,"r":53},{"d":0.17,"r":53},{"d":0.49,"r":31},{"d":0.82,"r":31},{"d":1.15,"r":23},{"d":1.38,"r":38},{"d":1.80,"r":41},{"d":2.03,"r":60},{"d":2.36,"r":51},{"d":2.69,"r":41},{"d":3.02,"r":46},{"d":3.24,"r":34},{"d":3.57,"r":53},{"d":3.67,"r":60},{"d":3.90,"r":46},{"d":4.23,"r":46},{"d":4.55,"r":20},{"d":4.88,"r":20},{"d":5.21,"r":34},{"d":5.63,"r":46},{"d":6.03,"r":63},{"d":6.29,"r":46},{"d":6.71,"r":41},{"d":7.17,"r":60},{"d":7.50,"r":67},{"d":7.70,"r":63},{"d":7.83,"r":31},{"d":8.15,"r":23},{"d":8.58,"r":27},{"d":8.91,"r":31},{"d":9.33,"r":41},{"d":9.56,"r":60},{"d":9.89,"r":67},{"d":10.12,"r":56},{"d":10.54,"r":53},{"d":10.87,"r":31},{"d":11.20,"r":38},{"d":11.62,"r":41},{"d":11.75,"r":67},{"d":12.18,"r":56},{"d":12.74,"r":56},{"d":13.26,"r":67},{"d":13.59,"r":41},{"d":14.05,"r":23},{"d":14.34,"r":38},{"d":14.77,"r":53},{"d":15.23,"r":75},{"d":15.55,"r":67},{"d":15.88,"r":51},{"d":16.40,"r":60},{"d":16.86,"r":46},{"d":17.19,"r":63},{"d":17.84,"r":63},{"d":18.04,"r":53},{"d":18.50,"r":38},{"d":18.69,"r":42},{"d":19.15,"r":46},{"d":19.48,"r":60},{"d":19.81,"r":67},{"d":20.23,"r":53},{"d":20.89,"r":34},{"d":21.31,"r":60},{"d":21.87,"r":56},{"d":21.97,"r":85},{"d":22.20,"r":67},{"d":22.52,"r":63},{"d":22.62,"r":38},{"d":22.85,"r":34},{"d":23.28,"r":46},{"d":23.60,"r":51},{"d":23.83,"r":56}
]
},
"vconcat":[
{
"width":872,"height":282,
"title":{"text":"Bitcoin / Dollar, 60, BITFINEX","subtitle":["Vol (20)","EMA 20/50/100/200"],"offset":-60,"dx":8,"fontSize":12,"fontWeight":"bold","color":"#505050","subtitleFontSize":13,"subtitleColor":"#4a4a4a","subtitleFont":"Liberation Sans","subtitleLineHeight":18,"subtitlePadding":3},
"layer":[
{"layer":[
{"data":{"name":"candles"},"mark":{"type":"bar","width":3,"opacity":0.45,"clip":true},
"encoding":{"x":{"field":"d","type":"quantitative","scale":{"domain":[-0.913,27.63],"nice":false,"zero":false},"axis":{"values":[1,3.5,6,9,13,16,20,23,27],"labels":false,"ticks":false,"grid":true,"gridColor":"#eceef2","domain":true,"domainColor":"#6e6e6e","domainWidth":2,"title":null,"zindex":0}},
"y":{"field":"vol","type":"quantitative","scale":{"domain":[0,14100],"nice":false},"axis":null},
"color":{"condition":{"test":"datum.c >= datum.o","value":"#53b987"},"value":"#eb4d5c"}}},
{"data":{"name":"volma"},"mark":{"type":"line","color":"#f5a04a","strokeWidth":1.2,"clip":true},
"encoding":{"x":{"field":"d","type":"quantitative","scale":{"domain":[-0.913,27.63],"nice":false,"zero":false},"axis":null},"y":{"field":"v","type":"quantitative","scale":{"domain":[0,14100],"nice":false},"axis":null}}}
]},
{"layer":[
{"data":{"name":"levels"},"mark":{"type":"rule","strokeWidth":2.5},
"encoding":{"y":{"field":"p","type":"quantitative","scale":{"domain":[5893,7229.6],"nice":false,"zero":false},"axis":{"orient":"right","values":[6000,6600,6800],"format":".1f","grid":true,"gridColor":"#eceef2","tickSize":4,"tickColor":"#555555","labelPadding":3,"labelFontSize":11,"labelColor":"#444444","domainColor":"#6e6e6e","domainWidth":1.5,"title":null}},
"color":{"field":"k","type":"nominal","scale":{"domain":["level","demand"],"range":["#2fe52f","#1b1bdc"]},"legend":null}}},
{"data":{"values":[{"p":6474.6}]},"mark":{"type":"rule","color":"#3d8a6a","strokeWidth":1,"strokeDash":[1,2]},
"encoding":{"y":{"field":"p","type":"quantitative","scale":{"domain":[5893,7229.6],"nice":false,"zero":false}}}},
{"data":{"values":[{"p":5893}]},"mark":{"type":"rule","color":"#6e6e6e","strokeWidth":2},
"encoding":{"x":{"datum":27.63,"type":"quantitative","scale":{"domain":[-0.913,27.63],"nice":false,"zero":false},"axis":null},"x2":{"datum":29.6},"y":{"field":"p","type":"quantitative","scale":{"domain":[5893,7229.6],"nice":false,"zero":false}}}},
{"data":{"name":"ema"},"mark":{"type":"line","strokeWidth":1.1,"clip":true},
"encoding":{"x":{"field":"d","type":"quantitative","scale":{"domain":[-0.913,27.63],"nice":false,"zero":false},"axis":null},"y":{"field":"p","type":"quantitative","scale":{"domain":[5893,7229.6],"nice":false,"zero":false}},
"color":{"field":"n","type":"nominal","scale":{"domain":["EMA 20","EMA 50","EMA 100","EMA 200"],"range":["#ef5350","#ff9f3a","#6fdceb","#5b5bd8"]},"legend":null}}},
{"data":{"name":"candles"},"mark":{"type":"rule","strokeWidth":1,"clip":true},
"encoding":{"x":{"field":"d","type":"quantitative","scale":{"domain":[-0.913,27.63],"nice":false,"zero":false},"axis":null},"y":{"field":"l","type":"quantitative","scale":{"domain":[5893,7229.6],"nice":false,"zero":false}},"y2":{"field":"h"},
"color":{"condition":{"test":"datum.c >= datum.o","value":"#53b987"},"value":"#eb4d5c"}}},
{"data":{"name":"candles"},"mark":{"type":"bar","width":3,"clip":true},
"encoding":{"x":{"field":"d","type":"quantitative","scale":{"domain":[-0.913,27.63],"nice":false,"zero":false},"axis":null},"y":{"field":"o","type":"quantitative","scale":{"domain":[5893,7229.6],"nice":false,"zero":false}},"y2":{"field":"c"},
"color":{"condition":{"test":"datum.c >= datum.o","value":"#53b987"},"value":"#eb4d5c"}}},
{"data":{"name":"drawings"},"mark":{"type":"line","strokeWidth":2.2,"clip":true},
"encoding":{"x":{"field":"d","type":"quantitative","scale":{"domain":[-0.913,27.63],"nice":false,"zero":false},"axis":null},"y":{"field":"p","type":"quantitative","scale":{"domain":[5893,7229.6],"nice":false,"zero":false}},"detail":{"field":"g","type":"nominal"},
"color":{"field":"k","type":"nominal","scale":{"domain":["down","up","target"],"range":["#0a0a0a","#33dd33","#ee1c1c"]},"legend":null}}},
{"data":{"name":"rings"},"transform":[{"filter":"datum.id == 'c1' || datum.id == 'c2'"}],"mark":{"type":"point","shape":"circle","size":380,"filled":false,"color":"#2ad62a","strokeWidth":2.5,"clip":true},
"encoding":{"x":{"field":"d","type":"quantitative","scale":{"domain":[-0.913,27.63],"nice":false,"zero":false},"axis":null},"y":{"field":"p","type":"quantitative","scale":{"domain":[5893,7229.6],"nice":false,"zero":false}}}},
{"data":{"name":"rings"},"transform":[{"filter":"datum.id == 'c3'"}],"mark":{"type":"point","shape":"M0,-1C0.73,-1 0.73,1 0,1C-0.73,1 -0.73,-1 0,-1Z","size":900,"filled":false,"color":"#2ad62a","strokeWidth":2.5,"clip":true},
"encoding":{"x":{"field":"d","type":"quantitative","scale":{"domain":[-0.913,27.63],"nice":false,"zero":false},"axis":null},"y":{"field":"p","type":"quantitative","scale":{"domain":[5893,7229.6],"nice":false,"zero":false}}}},
{"data":{"name":"rings"},"transform":[{"filter":"datum.id == 'c4'"}],"mark":{"type":"point","shape":"circle","size":1050,"filled":false,"color":"#2ad62a","strokeWidth":2.5,"clip":true},
"encoding":{"x":{"field":"d","type":"quantitative","scale":{"domain":[-0.913,27.63],"nice":false,"zero":false},"axis":null},"y":{"field":"p","type":"quantitative","scale":{"domain":[5893,7229.6],"nice":false,"zero":false}}}},
{"data":{"name":"tags"},"transform":[{"filter":"datum.k != 'timer'"}],"mark":{"type":"tick","orient":"vertical","thickness":43,"size":17,"opacity":1},
"encoding":{"x":{"datum":28.33,"type":"quantitative","scale":{"domain":[-0.913,27.63],"nice":false,"zero":false},"axis":null},"y":{"field":"at","type":"quantitative","scale":{"domain":[5893,7229.6],"nice":false,"zero":false}},
"color":{"field":"k","type":"nominal","scale":{"domain":["level","demand","last"],"range":["#1ee61e","#0c0cef","#5aa88a"]},"legend":null}}},
{"data":{"name":"tags"},"transform":[{"filter":"datum.k == 'timer'"}],"mark":{"type":"tick","orient":"vertical","thickness":33,"size":17,"opacity":1,"color":"#5aa88a"},
"encoding":{"x":{"datum":28.50,"type":"quantitative","scale":{"domain":[-0.913,27.63],"nice":false,"zero":false},"axis":null},"y":{"field":"at","type":"quantitative","scale":{"domain":[5893,7229.6],"nice":false,"zero":false}}}},
{"data":{"name":"tags"},"transform":[{"filter":"datum.k != 'timer'"}],"mark":{"type":"tick","orient":"horizontal","thickness":1,"size":4,"opacity":1},
"encoding":{"x":{"datum":27.73,"type":"quantitative","scale":{"domain":[-0.913,27.63],"nice":false,"zero":false},"axis":null},"y":{"field":"at","type":"quantitative","scale":{"domain":[5893,7229.6],"nice":false,"zero":false}},
"color":{"condition":{"test":"datum.k == 'level'","value":"#111111"},"value":"#ffffff"}}},
{"data":{"name":"tags"},"transform":[{"filter":"datum.k != 'timer'"}],"mark":{"type":"text","align":"left","baseline":"middle","fontSize":11,"font":"Liberation Sans","dy":0.5},
"encoding":{"x":{"datum":27.86,"type":"quantitative","scale":{"domain":[-0.913,27.63],"nice":false,"zero":false},"axis":null},"y":{"field":"at","type":"quantitative","scale":{"domain":[5893,7229.6],"nice":false,"zero":false}},"text":{"field":"label"},
"color":{"condition":{"test":"datum.k == 'level'","value":"#111111"},"value":"#ffffff"}}},
{"data":{"name":"tags"},"transform":[{"filter":"datum.k == 'timer'"}],"mark":{"type":"text","align":"left","baseline":"middle","fontSize":11,"font":"Liberation Sans","color":"#ffffff","dy":0.5},
"encoding":{"x":{"datum":28.06,"type":"quantitative","scale":{"domain":[-0.913,27.63],"nice":false,"zero":false},"axis":null},"y":{"field":"at","type":"quantitative","scale":{"domain":[5893,7229.6],"nice":false,"zero":false}},"text":{"field":"label"}}}
],"resolve":{"scale":{"color":"independent"}}}
],
"resolve":{"scale":{"y":"independent"},"axis":{"y":"independent"}}
},
{
"width":872,"height":57,
"title":{"text":"EWO (close, 5, 35)","offset":-26,"dx":8},
"layer":[
{"data":{"name":"ewo"},"mark":{"type":"area","clip":true},
"encoding":{"x":{"field":"d","type":"quantitative","scale":{"domain":[-0.913,27.63],"nice":false,"zero":false},"axis":{"values":[1,3.5,6,9,13,16,20,23,27],"labels":false,"ticks":false,"grid":true,"gridColor":"#eceef2","domain":true,"domainColor":"#6e6e6e","domainWidth":2,"title":null,"zindex":0}},
"y":{"field":"v","type":"quantitative","stack":null,"scale":{"domain":[-130,98],"nice":false,"zero":false},"axis":{"orient":"right","values":[0],"format":".4f","grid":false,"tickSize":4,"tickColor":"#555555","labelPadding":3,"labelFontSize":11,"labelColor":"#444444","domainColor":"#6e6e6e","domainWidth":1.5,"title":null}},
"y2":{"datum":0},
"color":{"field":"s","type":"nominal","scale":{"domain":["pos","neg"],"range":["#2e8f2e","#ff2a1c"]},"legend":null},
"detail":{"field":"seg","type":"nominal"}}},
{"data":{"values":[{"d":8.81,"v":-126},{"d":23.6,"v":-63}]},"mark":{"type":"line","color":"#f05a5a","strokeWidth":1.6},
"encoding":{"x":{"field":"d","type":"quantitative","scale":{"domain":[-0.913,27.63],"nice":false,"zero":false},"axis":null},"y":{"field":"v","type":"quantitative","scale":{"domain":[-130,98],"nice":false,"zero":false}}}},
{"data":{"values":[{"v":-130}]},"mark":{"type":"rule","color":"#6e6e6e","strokeWidth":2},
"encoding":{"x":{"datum":27.63,"type":"quantitative","scale":{"domain":[-0.913,27.63],"nice":false,"zero":false},"axis":null},"x2":{"datum":29.6},"y":{"field":"v","type":"quantitative","scale":{"domain":[-130,98],"nice":false,"zero":false}}}}
]
},
{
"width":872,"height":68,
"title":{"text":"MACD (12, 26, close, 9)","offset":-24,"dx":8},
"layer":[
{"data":{"name":"hist"},"mark":{"type":"area","clip":true,"color":"#f0266e"},
"encoding":{"x":{"field":"d","type":"quantitative","scale":{"domain":[-0.913,27.63],"nice":false,"zero":false},"axis":{"values":[1,3.5,6,9,13,16,20,23,27],"labels":false,"ticks":false,"grid":true,"gridColor":"#eceef2","domain":true,"domainColor":"#6e6e6e","domainWidth":2,"title":null,"zindex":0}},
"y":{"field":"v","type":"quantitative","stack":null,"scale":{"domain":[-76.6,59.4],"nice":false,"zero":false},"axis":{"orient":"right","values":[0],"format":".4f","grid":false,"tickSize":4,"tickColor":"#555555","labelPadding":3,"labelFontSize":11,"labelColor":"#444444","domainColor":"#6e6e6e","domainWidth":1.5,"title":null}},
"y2":{"datum":0},
"detail":{"field":"seg","type":"nominal"}}},
{"data":{"name":"macd"},"mark":{"type":"line","color":"#2196f3","strokeWidth":1.3,"clip":true},
"encoding":{"x":{"field":"d","type":"quantitative","scale":{"domain":[-0.913,27.63],"nice":false,"zero":false},"axis":null},"y":{"field":"m","type":"quantitative","scale":{"domain":[-76.6,59.4],"nice":false,"zero":false}}}},
{"data":{"name":"macd"},"mark":{"type":"line","color":"#ff8c1a","strokeWidth":1.3,"clip":true},
"encoding":{"x":{"field":"d","type":"quantitative","scale":{"domain":[-0.913,27.63],"nice":false,"zero":false},"axis":null},"y":{"field":"s","type":"quantitative","scale":{"domain":[-76.6,59.4],"nice":false,"zero":false}}}},
{"data":{"values":[{"d":7.99,"v":-74},{"d":25.8,"v":-1}]},"mark":{"type":"line","color":"#33dd33","strokeWidth":2.5},
"encoding":{"x":{"field":"d","type":"quantitative","scale":{"domain":[-0.913,27.63],"nice":false,"zero":false},"axis":null},"y":{"field":"v","type":"quantitative","scale":{"domain":[-76.6,59.4],"nice":false,"zero":false}}}},
{"data":{"values":[{"v":-76.6}]},"mark":{"type":"rule","color":"#6e6e6e","strokeWidth":2},
"encoding":{"x":{"datum":27.63,"type":"quantitative","scale":{"domain":[-0.913,27.63],"nice":false,"zero":false},"axis":null},"x2":{"datum":29.6},"y":{"field":"v","type":"quantitative","scale":{"domain":[-76.6,59.4],"nice":false,"zero":false}}}}
]
},
{
"width":872,"height":54,
"title":{"text":"Stoch RSI (3, 3, 14, 14, close)","offset":-24,"dx":8},
"layer":[
{"data":{"values":[{"lo":20,"hi":80}]},"mark":{"type":"rect","color":"#e8d6fb"},
"encoding":{"y":{"field":"lo","type":"quantitative","scale":{"domain":[-13,119.7],"nice":false,"zero":false}},"y2":{"field":"hi"}}},
{"data":{"values":[{"lo":20,"hi":80}]},"mark":{"type":"rule","color":"#777777","strokeDash":[6,4],"strokeWidth":1},
"encoding":{"y":{"field":"lo","type":"quantitative","scale":{"domain":[-13,119.7],"nice":false,"zero":false}}}},
{"data":{"values":[{"lo":20,"hi":80}]},"mark":{"type":"rule","color":"#777777","strokeDash":[6,4],"strokeWidth":1},
"encoding":{"y":{"field":"hi","type":"quantitative","scale":{"domain":[-13,119.7],"nice":false,"zero":false}}}},
{"data":{"name":"stoch"},"mark":{"type":"line","color":"#2196f3","strokeWidth":1.2,"clip":true},
"encoding":{"x":{"field":"d","type":"quantitative","scale":{"domain":[-0.913,27.63],"nice":false,"zero":false},"axis":{"values":[1,3.5,6,9,13,16,20,23,27],"labels":false,"ticks":false,"grid":true,"gridColor":"#eceef2","domain":true,"domainColor":"#6e6e6e","domainWidth":2,"title":null,"zindex":0}},
"y":{"field":"k","type":"quantitative","scale":{"domain":[-13,119.7],"nice":false,"zero":false},"axis":{"orient":"right","values":[0,100],"format":".4f","grid":true,"gridColor":"#e6e8ee","tickSize":4,"tickColor":"#555555","labelPadding":3,"labelFontSize":11,"labelColor":"#444444","domainColor":"#6e6e6e","domainWidth":1.5,"title":null,"zindex":0}}}},
{"data":{"name":"stoch"},"mark":{"type":"line","color":"#ff8c1a","strokeWidth":1.2,"clip":true},
"encoding":{"x":{"field":"d","type":"quantitative","scale":{"domain":[-0.913,27.63],"nice":false,"zero":false},"axis":null},"y":{"field":"ds","type":"quantitative","scale":{"domain":[-13,119.7],"nice":false,"zero":false}}}},
{"data":{"values":[{"d":13.65,"v":-1},{"d":18.27,"v":51}]},"mark":{"type":"line","color":"#e0405a","strokeWidth":1.5},
"encoding":{"x":{"field":"d","type":"quantitative","scale":{"domain":[-0.913,27.63],"nice":false,"zero":false},"axis":null},"y":{"field":"v","type":"quantitative","scale":{"domain":[-13,119.7],"nice":false,"zero":false}}}},
{"data":{"values":[{"d":16.08,"v":4},{"d":17.19,"v":46}]},"mark":{"type":"line","color":"#33dd33","strokeWidth":2.5},
"encoding":{"x":{"field":"d","type":"quantitative","scale":{"domain":[-0.913,27.63],"nice":false,"zero":false},"axis":null},"y":{"field":"v","type":"quantitative","scale":{"domain":[-13,119.7],"nice":false,"zero":false}}}},
{"data":{"values":[{"v":-13}]},"mark":{"type":"rule","color":"#6e6e6e","strokeWidth":2},
"encoding":{"x":{"datum":27.63,"type":"quantitative","scale":{"domain":[-0.913,27.63],"nice":false,"zero":false},"axis":null},"x2":{"datum":29.6},"y":{"field":"v","type":"quantitative","scale":{"domain":[-13,119.7],"nice":false,"zero":false}}}}
]
},
{
"width":872,"height":54,
"title":{"text":"RSI (14, close)","offset":-24,"dx":8},
"layer":[
{"data":{"values":[{"lo":30,"hi":70}]},"mark":{"type":"rect","color":"#f3e9fd"},
"encoding":{"y":{"field":"lo","type":"quantitative","scale":{"domain":[-12.5,105.9],"nice":false,"zero":false},"axis":{"orient":"right","values":[0,100],"format":".4f","grid":false,"tickSize":4,"tickColor":"#555555","labelPadding":3,"labelFontSize":11,"labelColor":"#444444","labelFlush":4,"domainColor":"#6e6e6e","domainWidth":1.5,"title":null}},"y2":{"field":"hi"}}},
{"data":{"values":[{"lo":30,"hi":70}]},"mark":{"type":"rule","color":"#aaaaaa","strokeDash":[6,4],"strokeWidth":1},
"encoding":{"y":{"field":"lo","type":"quantitative","scale":{"domain":[-12.5,105.9],"nice":false,"zero":false}}}},
{"data":{"values":[{"lo":30,"hi":70}]},"mark":{"type":"rule","color":"#aaaaaa","strokeDash":[6,4],"strokeWidth":1},
"encoding":{"y":{"field":"hi","type":"quantitative","scale":{"domain":[-12.5,105.9],"nice":false,"zero":false}}}},
{"data":{"name":"rsi"},"mark":{"type":"line","color":"#9c27b0","strokeWidth":1.1,"clip":true},
"encoding":{"x":{"field":"d","type":"quantitative","scale":{"domain":[-0.913,27.63],"nice":false,"zero":false},"axis":{"values":[1,3.5,6,9,13,16,20,23,27],"labelExpr":"datum.value == 1 ? 'Aug' : datum.value == 3.5 ? '12:00' : format(datum.value, 'd')","labelFontWeight":{"condition":{"test":"datum.value == 1","value":"bold"},"value":"normal"},"labelFontSize":12,"labelColor":"#444444","labelFlush":false,"ticks":true,"tickSize":5,"tickColor":"#6e6e6e","labelPadding":4,"grid":true,"gridColor":"#eceef2","domain":true,"domainColor":"#6e6e6e","domainWidth":2,"title":null,"zindex":0}},
"y":{"field":"r","type":"quantitative","scale":{"domain":[-12.5,105.9],"nice":false,"zero":false}}}}
]
}
]
}
